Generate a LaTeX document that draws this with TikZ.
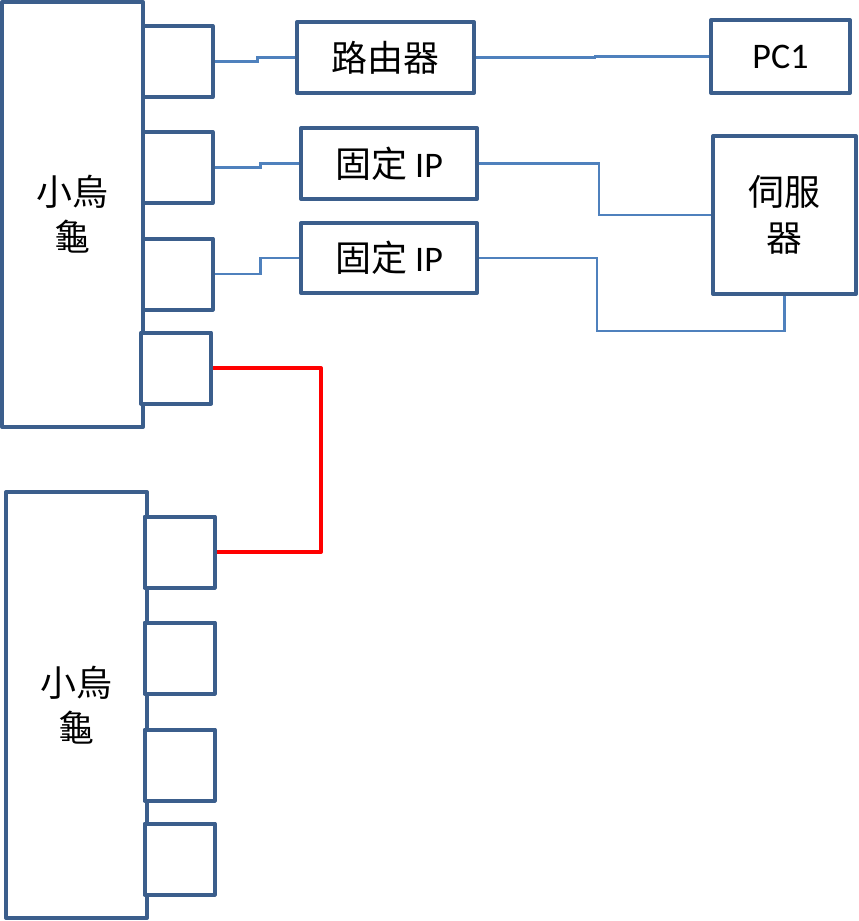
\documentclass[tikz,border=0pt]{standalone}
\usepackage{fontspec}
\usepackage{xcolor}
\usepackage{tikz}
\setmainfont{Carlito}
\newfontfamily\cjk{Noto Sans CJK TC}
\definecolor{boxblue}{RGB}{59,94,140}
\definecolor{wireblue}{RGB}{79,129,189}

\tikzset{
  devbox/.style={draw=boxblue, line width=3pt, line join=round, fill=white,
    inner sep=0pt, font=\fontsize{27}{34}\selectfont, align=center},
  portbox/.style={devbox, minimum width=52.5pt, minimum height=53.25pt},
  wire/.style={draw=wireblue, line width=2pt},
  redwire/.style={draw=red, line width=3pt, line join=round}
}

\begin{document}
\begin{tikzpicture}[x=0.75pt, y=-0.75pt]
				\useasboundingbox (0,0) rectangle (858,921);
				
				% two switches
				\node[devbox, minimum width=105.75pt, minimum height=318.75pt] (sw1) at (72.5,214.5) {\cjk 小烏\\\cjk 龜};
				\node[devbox, minimum width=105.75pt, minimum height=319.5pt] (sw2) at (76.5,705) {\cjk 小烏\\\cjk 龜};
				
				\foreach \i/\x/\y in {1/177.5/61.5, 2/177.5/167.5, 3/177.5/274, 4/176/368} {
					\node[portbox] (sw1p\i) at (\x,\y) {};
				}
				\foreach \i/\y in {1/552, 2/658, 3/765, 4/859} {
					\node[portbox] (sw2p\i) at (179.5,\y) {};
				}
				
				% devices
				\node[devbox, minimum width=132.75pt, minimum height=53.25pt] (router) at (385.5,57.5) {\cjk 路由器};
				\node[devbox, minimum width=104.25pt, minimum height=54.75pt] (pc) at (780.5,56.5) {PC1};
				\node[devbox, minimum width=132pt, minimum height=53.25pt] (ipa) at (389,163.5) {{\cjk 固定} IP};
				\node[devbox, minimum width=132pt, minimum height=52.5pt] (ipb) at (389,258) {{\cjk 固定} IP};
				\node[devbox, minimum width=107.25pt, minimum height=118.5pt] (srv) at (784.5,215) {\cjk 伺服\\\cjk 器};
				
				% wiring
				\draw[wire] (sw1p1.east) -- ++(43,0) |- (router.west);
				\draw[wire] (router.east) -- ++(119,0) |- (pc.west);
				\draw[wire] (sw1p2.east) -- ++(46,0) |- (ipa.west);
				\draw[wire] (sw1p3.east) -- ++(46,0) |- (ipb.west);
				\draw[wire] (ipa.east) -- ++(120,0) |- (srv.west);
				\coordinate (srvloop) at (597,331);
				\draw[wire] (ipb.east) -| (srvloop) -| (srv.south);
				
				\draw[redwire] (sw1p4.east) -- ++(108,0) |- (sw2p1.east);
\end{tikzpicture}
\end{document}
